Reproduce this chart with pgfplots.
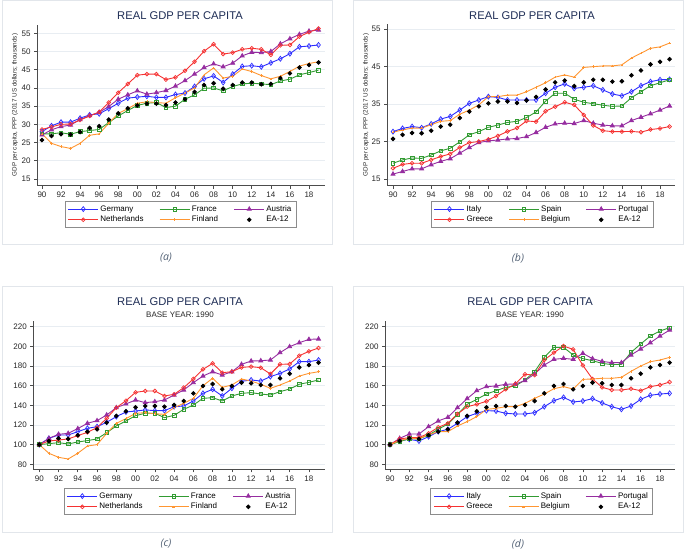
\documentclass[border=0pt]{standalone}
\usepackage{pgfplots}
\pgfplotsset{compat=1.18}
\usepackage{pgfplotstable}
\usepackage{fontspec}
\setmainfont{Liberation Sans}
\newfontfamily\capfont{Open Sans}

\definecolor{sblue}{RGB}{45,45,255}
\definecolor{sgreen}{RGB}{50,155,50}
\definecolor{spurple}{RGB}{150,45,160}
\definecolor{sred}{RGB}{245,50,50}
\definecolor{sorange}{RGB}{255,150,50}
\definecolor{titlec}{RGB}{30,45,85}
\definecolor{gridc}{RGB}{232,237,242}
\definecolor{boxc}{RGB}{226,230,235}
\definecolor{capc}{RGB}{80,95,115}

\pgfplotstableread{
year DE FR AT NL FI EA
1990 28.0 27.4 27.1 28.6 27.4 25.7
1991 29.6 27.4 28.5 29.3 24.8 26.8
1992 30.6 27.7 29.4 30.0 23.9 27.3
1993 30.6 27.3 29.8 30.1 23.4 27.2
1994 31.7 28.0 31.3 31.2 24.8 27.9
1995 32.6 28.3 32.4 32.3 27.0 29.0
1996 32.9 28.6 33.3 33.4 27.4 29.5
1997 34.3 30.5 34.9 36.0 30.3 31.3
1998 35.8 32.3 36.9 38.7 33.0 33.0
1999 37.2 33.8 38.1 41.1 34.3 34.4
2000 37.5 35.2 39.2 43.5 35.8 35.2
2001 37.7 35.8 38.3 43.8 36.2 35.7
2002 37.4 36.0 38.7 43.8 36.0 35.7
2003 37.4 34.6 39.3 42.3 35.8 35.3
2004 38.2 35.0 40.5 42.9 37.3 36.0
2005 38.6 36.9 42.0 44.7 38.6 36.9
2006 40.4 38.1 43.8 47.2 40.0 38.9
2007 42.5 39.9 45.6 50.1 43.6 40.8
2008 43.3 40.0 46.6 52.0 45.5 41.3
2009 41.5 39.2 45.8 49.3 42.7 39.8
2010 43.8 40.4 46.8 49.7 43.2 40.8
2011 45.9 41.1 48.8 50.6 45.2 41.5
2012 46.1 41.3 49.8 50.9 44.5 41.5
2013 45.8 41.1 49.7 50.6 43.4 41.0
2014 46.9 40.9 50.0 49.1 42.5 41.1
2015 48.0 41.9 52.1 51.7 43.2 42.7
2016 49.4 42.4 53.5 51.8 44.5 44.0
2017 51.3 43.6 54.7 54.1 46.0 45.6
2018 51.5 44.2 55.6 55.3 46.7 46.3
2019 51.8 44.9 55.9 56.3 47.2 47.0
}\tabA

\pgfplotstableread{
year IT ES PT GR BE EA
1990 27.65 19.2 16.3 17.85 27.5 25.7
1991 28.5 20.1 17.0 18.9 28.1 26.8
1992 29.0 20.6 17.7 19.2 28.6 27.3
1993 28.7 20.5 17.7 19.2 28.6 27.2
1994 29.7 21.4 18.8 20.1 29.5 27.9
1995 31.0 22.5 19.7 21.0 30.4 29.0
1996 31.7 23.2 20.4 21.7 30.6 29.5
1997 33.4 24.9 21.9 23.4 32.3 31.3
1998 35.2 26.8 23.4 24.7 33.4 33.0
1999 36.1 27.65 24.7 25.0 34.8 34.4
2000 37.0 28.8 25.2 25.6 37.0 35.2
2001 36.8 29.4 25.4 26.5 37.0 35.7
2002 36.1 30.1 25.7 27.7 37.4 35.7
2003 36.1 30.4 25.8 28.6 37.4 35.3
2004 36.1 31.4 26.3 30.5 38.3 36.0
2005 36.1 32.9 27.4 30.3 39.5 36.9
2006 37.9 35.8 28.8 33.1 40.7 38.9
2007 39.5 37.9 29.7 34.3 42.2 40.8
2008 40.4 37.9 29.9 35.5 42.8 41.3
2009 39.2 36.3 29.8 34.8 42.2 39.8
2010 39.5 35.5 30.6 32.1 44.8 40.8
2011 39.9 35.1 29.9 29.3 45.0 41.5
2012 38.8 34.7 29.4 27.9 45.2 41.5
2013 37.7 34.4 29.2 27.65 45.2 41.0
2014 37.2 34.5 29.2 27.65 45.5 41.1
2015 38.3 36.7 30.6 27.7 47.3 42.7
2016 39.9 38.3 31.5 27.5 48.6 44.0
2017 41.0 39.9 32.4 28.2 49.9 45.6
2018 41.5 40.7 33.4 28.5 50.3 46.3
2019 41.6 41.5 34.5 29.0 51.3 47.0
}\tabB

\pgfplotstableread{
year DE FR AT NL FI EA
1990 100 100 100 100 100 100
1991 106.4 101.0 106.4 103.7 91.2 103.7
1992 109.8 102.0 110.5 104.7 87.1 106.4
1993 109.8 100.7 111.5 105.8 85.4 105.8
1994 113.2 102.7 116.3 109.2 91.2 109.5
1995 116.6 104.1 121.7 112.5 98.6 113.2
1996 118.3 105.8 124.4 117.3 100.0 115.6
1997 122.7 112.2 130.2 126.8 111.5 122.4
1998 128.5 119.0 137.6 137.6 121.7 129.2
1999 133.2 124.1 141.4 144.7 126.4 133.9
2000 134.2 129.5 145.4 153.2 131.9 138.0
2001 135.3 131.9 142.7 154.6 132.5 139.3
2002 134.6 131.9 143.7 154.6 131.5 139.3
2003 134.6 127.5 145.4 149.5 130.8 138.6
2004 138.6 129.8 150.5 151.2 137.6 140.3
2005 139.3 135.9 155.6 158.0 142.0 144.4
2006 144.4 140.3 163.1 166.8 147.1 152.2
2007 152.2 147.1 169.8 176.6 160.0 159.7
2008 156.3 147.8 174.2 182.7 167.5 161.7
2009 149.5 144.4 170.8 173.2 158.3 156.3
2010 157.3 149.5 174.2 174.2 160.7 159.7
2011 164.4 152.2 181.7 178.6 166.8 163.1
2012 165.8 152.9 185.1 179.3 164.7 162.4
2013 164.7 151.5 185.4 178.3 161.4 160.7
2014 169.2 150.5 186.1 171.9 157.3 160.7
2015 172.5 153.9 193.6 181.7 160.7 167.5
2016 177.0 156.6 199.7 182.0 164.7 172.2
2017 184.4 161.4 203.7 190.5 169.8 178.6
2018 184.4 163.4 207.1 194.9 172.5 181.0
2019 186.1 165.8 207.5 198.3 174.2 183.4
}\tabC

\pgfplotstableread{
year IT ES PT GR BE EA
1990 100 100 100 100 100 100
1991 104.1 103.1 106.4 105.8 104.1 103.7
1992 105.4 106.1 110.8 107.1 106.4 106.4
1993 103.7 105.8 110.8 107.1 106.4 105.8
1994 108.1 109.8 118.3 111.5 109.8 109.5
1995 113.2 115.6 124.1 117.6 113.2 113.2
1996 115.6 121.0 127.8 121.7 113.2 115.6
1997 121.7 130.8 137.6 131.2 119.0 122.4
1998 128.5 141.0 146.8 138.6 123.4 129.2
1999 131.9 146.1 154.9 141.0 128.5 133.9
2000 134.6 151.5 159.0 144.1 135.9 138.0
2001 134.2 154.9 159.7 149.5 136.9 139.3
2002 131.9 158.3 161.4 156.3 138.6 139.3
2003 131.2 159.7 161.7 161.7 138.6 138.6
2004 131.2 165.8 165.1 171.5 142.0 140.3
2005 132.5 174.2 171.9 170.8 147.1 144.4
2006 138.6 188.8 181.0 186.1 151.5 152.2
2007 144.7 199.0 186.8 193.6 156.9 159.7
2008 148.1 199.0 187.8 200.3 159.0 161.7
2009 143.4 191.2 186.8 196.9 156.6 156.3
2010 144.4 187.5 192.9 180.7 166.4 159.7
2011 146.8 185.4 187.5 166.8 166.8 163.1
2012 142.4 182.7 184.7 158.3 167.5 162.4
2013 138.6 181.4 183.4 155.6 167.5 160.7
2014 135.9 181.7 183.4 155.6 168.5 160.7
2015 139.3 193.9 191.2 156.9 174.6 167.5
2016 146.1 202.4 197.3 154.9 180.0 172.2
2017 150.2 210.5 203.7 159.0 184.4 178.6
2018 151.5 215.6 210.5 160.7 186.1 181.0
2019 152.2 219.0 216.6 163.7 188.8 183.4
}\tabD

\pgfplotsset{
  statastyle/.style={
    scale only axis,
    anchor=south west,
    axis x line*=bottom, axis y line*=left,
    axis line style={black!70, line width=0.6pt, -},
    tick align=outside,
    major tick length=3pt,
    tick style={black!70, line width=0.6pt},
    xtick={1990,1992,...,2018},
    xticklabels={90,92,94,96,98,00,02,04,06,08,10,12,14,16,18},
    ymajorgrids,
    grid style={gridc, line width=0.6pt},
    ticklabel style={font=\fontsize{8}{9}\selectfont, text=black!85},
    /pgf/number format/assume math mode=true,
    legend columns=3,
    legend cell align=left,
    legend style={draw=black!45, line width=0.5pt, font=\fontsize{8}{9}\selectfont,
      anchor=north, inner xsep=3pt, inner ysep=2.5pt,
      nodes={inner sep=1.7pt},
      /tikz/every even column/.append style={column sep=14pt}},
    legend image code/.code={\draw[mark repeat=2,mark phase=2,#1] plot coordinates {(0pt,0pt) (15pt,0pt) (30pt,0pt)};},
    every axis plot/.append style={line width=0.9pt},
  },
  s1/.style={sblue, mark=diamond, mark size=2.5pt, mark options={solid, line width=0.7pt}},
  s2/.style={sgreen, mark=square, mark size=1.8pt, mark options={solid, line width=0.7pt}},
  s3/.style={spurple, mark=triangle*, mark size=2.2pt, mark options={solid}},
  s4/.style={sred, mark=o, mark size=1.9pt, mark options={solid, line width=0.7pt}},
  s5/.style={sorange, mark=+, mark size=1.3pt, mark options={solid, line width=0.6pt}},
  s6/.style={only marks, black, mark=*, mark size=1.8pt},
}

\begin{document}
\begin{tikzpicture}
\path[use as bounding box] (0pt,0pt) rectangle (685pt,550pt);
% panel frames
\draw[boxc, line width=0.6pt] (2pt,306pt) rectangle (332pt,549.5pt);
\draw[boxc, line width=0.6pt] (353pt,306pt) rectangle (683pt,549.5pt);
\draw[boxc, line width=0.6pt] (2pt,18pt) rectangle (332pt,264pt);
\draw[boxc, line width=0.6pt] (353pt,18pt) rectangle (683pt,264pt);

% (a)
\begin{axis}[statastyle, at={(37pt,364.3pt)}, width=288pt, height=160.7pt,
  xmin=1989.48, xmax=2019.68, ymin=13.16, ymax=57.28,
  ytick={15,20,...,55},
  legend style={at={(0.498,-0.0952)}}]
\addplot[s1] table[x=year,y=DE]{\tabA}; \addlegendentry{Germany}
\addplot[s2] table[x=year,y=FR]{\tabA}; \addlegendentry{France}
\addplot[s3] table[x=year,y=AT]{\tabA}; \addlegendentry{Austria}
\addplot[s4] table[x=year,y=NL]{\tabA}; \addlegendentry{Netherlands}
\addplot[s5] table[x=year,y=FI]{\tabA}; \addlegendentry{Finland}
\addplot[s6] table[x=year,y=EA]{\tabA}; \addlegendentry{EA-12}
\end{axis}

% (b)
\begin{axis}[statastyle, at={(387pt,364.3pt)}, width=288pt, height=161.7pt,
  xmin=1989.37, xmax=2019.57, ymin=13.2, ymax=56.4,
  ytick={15,25,...,55},
  legend style={at={(0.538,-0.0946)}}]
\addplot[s1] table[x=year,y=IT]{\tabB}; \addlegendentry{Italy}
\addplot[s2] table[x=year,y=ES]{\tabB}; \addlegendentry{Spain}
\addplot[s3] table[x=year,y=PT]{\tabB}; \addlegendentry{Portugal}
\addplot[s4] table[x=year,y=GR]{\tabB}; \addlegendentry{Greece}
\addplot[s5] table[x=year,y=BE]{\tabB}; \addlegendentry{Belgium}
\addplot[s6] table[x=year,y=EA]{\tabB}; \addlegendentry{EA-12}
\end{axis}

% (c)
\begin{axis}[statastyle, at={(33.3pt,80.7pt)}, width=291.7pt, height=148.6pt,
  xmin=1989.38, xmax=2019.67, ymin=74.9, ymax=226.1,
  ytick={80,100,...,220},
  legend style={at={(0.501,-0.126)}}]
\addplot[s1] table[x=year,y=DE]{\tabC}; \addlegendentry{Germany}
\addplot[s2] table[x=year,y=FR]{\tabC}; \addlegendentry{France}
\addplot[s3] table[x=year,y=AT]{\tabC}; \addlegendentry{Austria}
\addplot[s4] table[x=year,y=NL]{\tabC}; \addlegendentry{Netherlands}
\addplot[s5] table[x=year,y=FI]{\tabC}; \addlegendentry{Finland}
\addplot[s6] table[x=year,y=EA]{\tabC}; \addlegendentry{EA-12}
\end{axis}

% (d)
\begin{axis}[statastyle, at={(385pt,80.7pt)}, width=290pt, height=148.6pt,
  xmin=1989.48, xmax=2019.56, ymin=74.9, ymax=226.1,
  ytick={80,100,...,220},
  legend style={at={(0.54,-0.126)}}]
\addplot[s1] table[x=year,y=IT]{\tabD}; \addlegendentry{Italy}
\addplot[s2] table[x=year,y=ES]{\tabD}; \addlegendentry{Spain}
\addplot[s3] table[x=year,y=PT]{\tabD}; \addlegendentry{Portugal}
\addplot[s4] table[x=year,y=GR]{\tabD}; \addlegendentry{Greece}
\addplot[s5] table[x=year,y=BE]{\tabD}; \addlegendentry{Belgium}
\addplot[s6] table[x=year,y=EA]{\tabD}; \addlegendentry{EA-12}
\end{axis}

% titles
\node[font=\fontsize{11.2}{13}\selectfont, text=titlec] at (180pt,534pt) {REAL GDP PER CAPITA};
\node[font=\fontsize{11.2}{13}\selectfont, text=titlec] at (532pt,534pt) {REAL GDP PER CAPITA};
\node[font=\fontsize{11.2}{13}\selectfont, text=titlec] at (180pt,248.3pt) {REAL GDP PER CAPITA};
\node[font=\fontsize{11.2}{13}\selectfont, text=titlec] at (530pt,248.3pt) {REAL GDP PER CAPITA};
\node[font=\fontsize{8}{9}\selectfont, text=black!85] at (180pt,235pt) {BASE YEAR: 1990};
\node[font=\fontsize{8}{9}\selectfont, text=black!85] at (530pt,235pt) {BASE YEAR: 1990};
% y labels
\node[rotate=90, font=\fontsize{6.3}{7}\selectfont, text=black!85] at (15pt,445pt) {GDP per capita, PPP (2017 US dollars; thousands)};
\node[rotate=90, font=\fontsize{6.3}{7}\selectfont, text=black!85] at (366pt,445pt) {GDP per capita, PPP (2017 US dollars; thousands)};
% captions
\node[font=\capfont\itshape\fontsize{10.5}{12}\selectfont, text=capc] at (166pt,292pt) {(a)};
\node[font=\capfont\itshape\fontsize{10.5}{12}\selectfont, text=capc] at (518pt,292pt) {(b)};
\node[font=\capfont\itshape\fontsize{10.5}{12}\selectfont, text=capc] at (166pt,6pt) {(c)};
\node[font=\capfont\itshape\fontsize{10.5}{12}\selectfont, text=capc] at (518pt,6pt) {(d)};
\end{tikzpicture}
\end{document}
